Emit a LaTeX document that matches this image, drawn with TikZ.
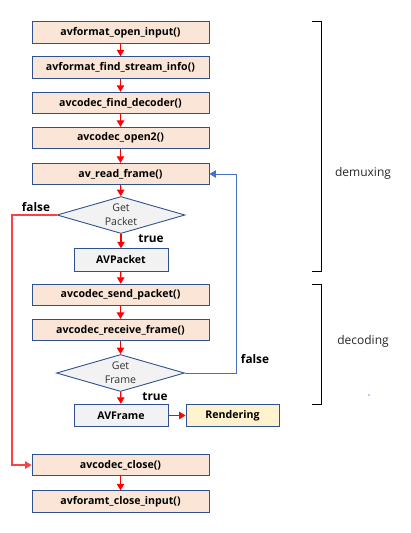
\documentclass[tikz,border=0pt]{standalone}
\usepackage{fontspec}
\setmainfont{Open Sans}
\usetikzlibrary{shapes.geometric,arrows.meta}
\definecolor{peach}{HTML}{FBE5D6}
\definecolor{edge}{HTML}{2F528F}
\definecolor{lgrey}{HTML}{F2F2F2}
\definecolor{lyel}{HTML}{FFF2CC}
\definecolor{lblue}{HTML}{4472C4}
\tikzset{
  fnbox/.style={draw=edge,line width=0.9pt,fill=peach,minimum width=177pt,minimum height=21.5pt,inner sep=0pt,font=\fontsize{10.6}{12}\selectfont\bfseries},
  greybox/.style={fnbox,fill=lgrey,minimum width=94pt,minimum height=22.5pt},
  yelbox/.style={fnbox,fill=lyel,minimum width=93pt,minimum height=22.5pt},
  decide/.style={draw=edge,line width=0.9pt,fill=lgrey,shape=diamond,aspect=3.5,minimum width=128pt,minimum height=37pt,inner sep=0pt,align=center,font=\fontsize{10.6}{14}\selectfont,text=black!80},
  flow/.style={draw=red,line width=1.2pt,-{Triangle[width=7.5pt,length=6.5pt]}},
  back/.style={draw=lblue,line width=0.9pt,-{Triangle[width=7.5pt,length=6.5pt]}},
  tag/.style={font=\fontsize{11.8}{13}\selectfont\bfseries,inner sep=0pt},
  grp/.style={font=\fontsize{12}{14}\selectfont,text=black!85,inner sep=0pt},
  brk/.style={draw=black,line width=0.8pt}
}
\begin{document}
\begin{tikzpicture}[x=1pt,y=-1pt]
\useasboundingbox (0,0) rectangle (410,533);
\node[fnbox] (b1) at (120.5,32.5) {avformat\_open\_input()};
\node[fnbox] (b2) at (120.5,67.5) {avformat\_find\_stream\_info()};
\node[fnbox] (b3) at (120.5,103) {avcodec\_find\_decoder()};
\node[fnbox] (b4) at (120.5,138) {avcodec\_open2()};
\node[fnbox] (b5) at (120.5,174) {av\_read\_frame()};
\node[decide] (d1) at (121,215) {Get\\Packet};
\node[greybox] (pk) at (121,260) {AVPacket};
\node[fnbox] (b6) at (120.5,295) {avcodec\_send\_packet()};
\node[fnbox] (b7) at (120.5,330) {avcodec\_receive\_frame()};
\node[decide] (d2) at (120.5,373) {Get\\Frame};
\node[greybox] (fr) at (121,415.5) {AVFrame};
\node[yelbox] (rd) at (232.5,415.5) {Rendering};
\node[fnbox] (b8) at (120.5,465) {avcodec\_close()};
\node[fnbox] (b9) at (120.5,501.5) {avforamt\_close\_input()};

\draw[flow] (b1) -- (b2);
\draw[flow] (b2) -- (b3);
\draw[flow] (b3) -- (b4);
\draw[flow] (b4) -- (b5);
\draw[flow] (b5) -- (d1);
\draw[flow] (d1) -- (pk);
\draw[flow] (pk) -- (b6);
\draw[flow] (b6) -- (b7);
\draw[flow] (b7) -- (d2);
\draw[flow] (d2) -- (fr);
\draw[flow] (fr) -- (rd);
\draw[flow] (b8) -- (b9);

\coordinate (fl) at (12,215);
\draw[flow,draw=red!75] (d1.west) -- (fl) |- (b8.west);
\coordinate (tr) at (236,373);
\draw[back] (d2.east) -- (tr) |- (b5.east);

\node[tag] (f1) at (36,207) {false};
\node[tag] (t1) at (151,239) {true};
\node[tag] (f2) at (255,359) {false};
\node[tag] (t2) at (155,397) {true};

\draw[brk] (312,21) -- (321,21) -- (321,271) -- (312,271);
\draw[brk] (312,284) -- (321,284) -- (321,404) -- (312,404);
\node[grp] (dm) at (363,173) {demuxing};
\node[grp] (dc) at (363,341) {decoding};
\fill[blue] (369,395) circle (0.6);
\end{tikzpicture}
\end{document}
